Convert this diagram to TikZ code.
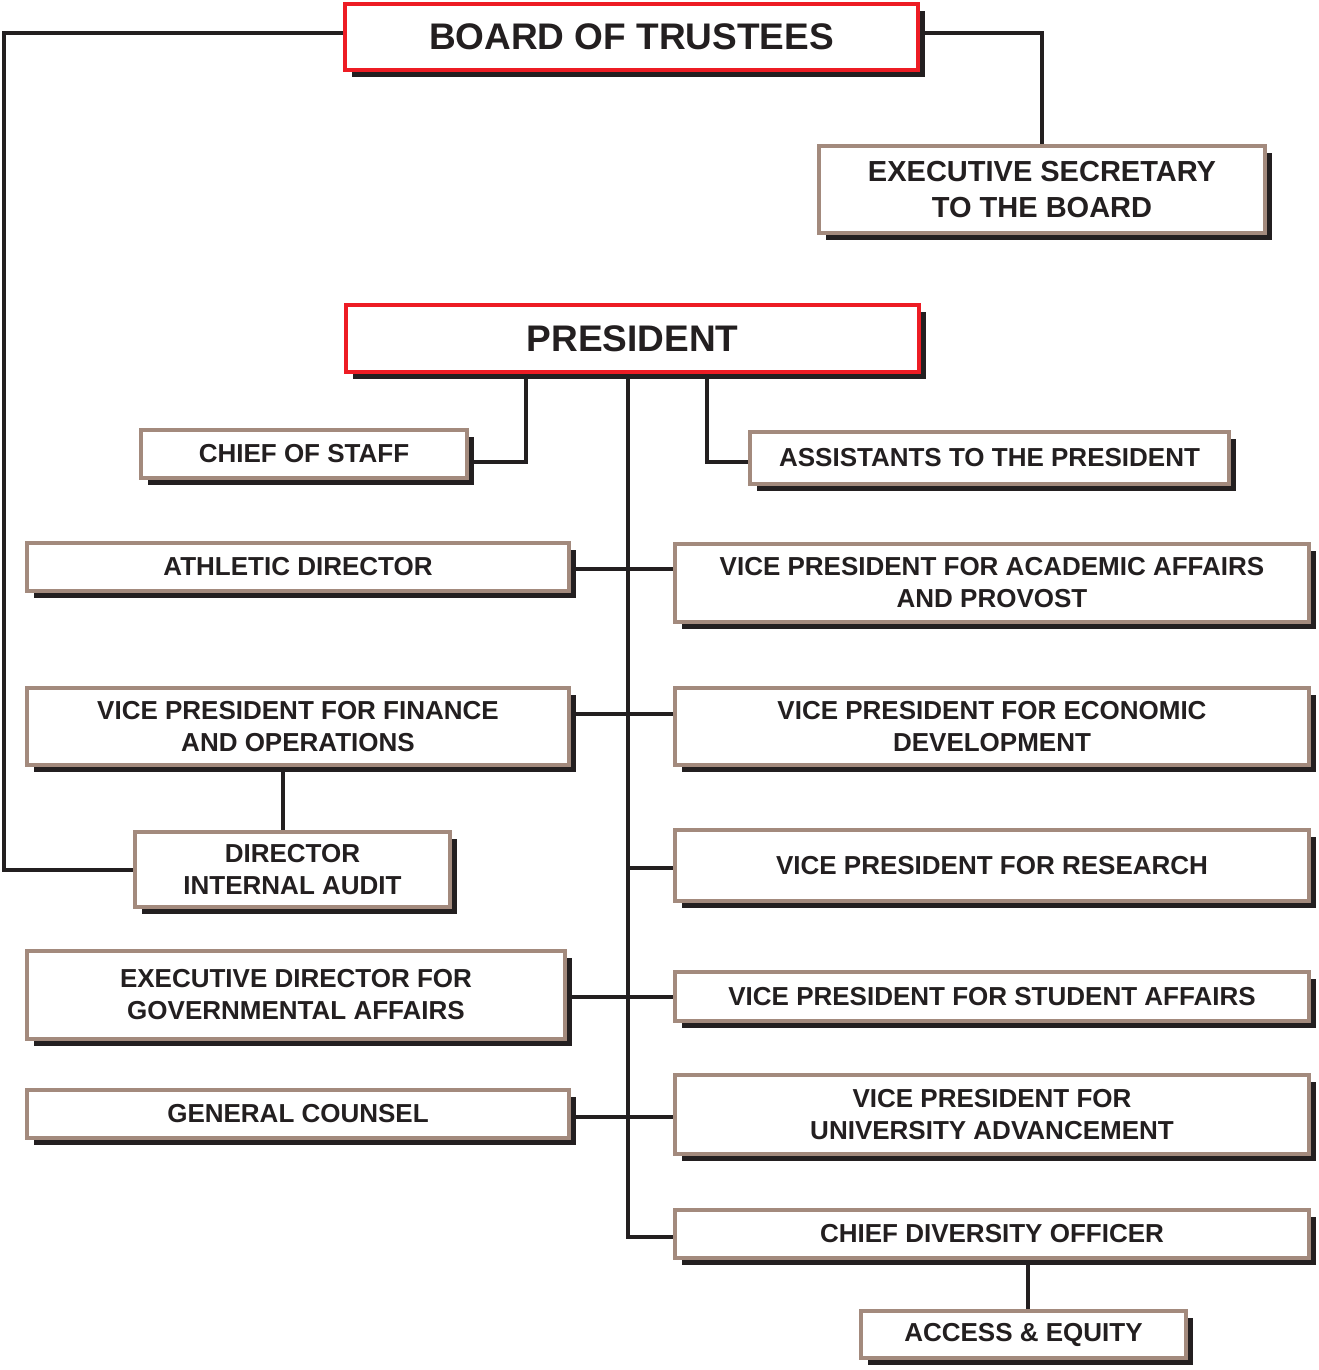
\documentclass[tikz,border=0pt]{standalone}
\usepackage{fontspec}
\setmainfont{Liberation Sans}
\usepackage{tikz}
\usetikzlibrary{shadows,backgrounds}
\definecolor{ink}{HTML}{231F20}
\definecolor{tanline}{HTML}{A38A7D}
\definecolor{redline}{HTML}{ED1C24}
\tikzstyle{unit}=[rectangle, draw=tanline, line width=4pt, fill=white, inner sep=0pt, align=center, text=ink,
  font=\bfseries\fontsize{26}{32}\selectfont,
  drop shadow={shadow xshift=7pt, shadow yshift=-7pt, fill=ink, opacity=1}]
\tikzstyle{head}=[unit, draw=redline, font=\bfseries\fontsize{37}{44}\selectfont]
\tikzstyle{link}=[draw=ink, line width=4pt]

\begin{document}
\begin{tikzpicture}[x=1pt, y=-1pt]
                    \useasboundingbox (0,0) rectangle (1319,1370);
                    \node[head, minimum width=573pt, minimum height=66pt] (bot) at (631.5, 37) {BOARD OF TRUSTEES};
                    \node[unit, minimum width=446pt, minimum height=87pt, font=\bfseries\fontsize{29}{36}\selectfont] (sec) at (1042, 189.5) {EXECUTIVE SECRETARY\\TO THE BOARD};
                    \node[head, minimum width=573pt, minimum height=67pt] (pres) at (632.5, 338.5) {PRESIDENT};
                    \node[unit, minimum width=326pt, minimum height=48pt] (cos) at (304, 454) {CHIEF OF STAFF};
                    \node[unit, minimum width=479pt, minimum height=52pt] (asst) at (989.5, 458) {ASSISTANTS TO THE PRESIDENT};
                    \node[unit, minimum width=542pt, minimum height=48pt] (ath) at (298, 567) {ATHLETIC DIRECTOR};
                    \node[unit, minimum width=634pt, minimum height=78pt] (vpaa) at (992, 583) {VICE PRESIDENT FOR ACADEMIC AFFAIRS\\AND PROVOST};
                    \node[unit, minimum width=542pt, minimum height=77pt] (vpfo) at (298, 726.5) {VICE PRESIDENT FOR FINANCE\\AND OPERATIONS};
                    \node[unit, minimum width=634pt, minimum height=77pt] (vped) at (992, 726.5) {VICE PRESIDENT FOR ECONOMIC\\DEVELOPMENT};
                    \node[unit, minimum width=315pt, minimum height=75pt] (aud) at (292.5, 869.5) {DIRECTOR\\INTERNAL AUDIT};
                    \node[unit, minimum width=634pt, minimum height=71pt] (vpr) at (992, 865.5) {VICE PRESIDENT FOR RESEARCH};
                    \node[unit, minimum width=538pt, minimum height=88pt] (edga) at (296, 995) {EXECUTIVE DIRECTOR FOR\\GOVERNMENTAL AFFAIRS};
                    \node[unit, minimum width=634pt, minimum height=49pt] (vpsa) at (992, 996.5) {VICE PRESIDENT FOR STUDENT AFFAIRS};
                    \node[unit, minimum width=542pt, minimum height=48pt] (gc) at (298, 1114) {GENERAL COUNSEL};
                    \node[unit, minimum width=634pt, minimum height=79pt] (vpua) at (992, 1114.5) {VICE PRESIDENT FOR\\UNIVERSITY ADVANCEMENT};
                    \node[unit, minimum width=634pt, minimum height=48pt] (cdo) at (992, 1234) {CHIEF DIVERSITY OFFICER};
                    \node[unit, minimum width=325pt, minimum height=47pt] (acc) at (1023.5, 1334.5) {ACCESS \& EQUITY};
                    \coordinate (lft) at (4, 0);
                    \coordinate (trunk) at (628, 0);
                    \coordinate (cosx) at (526, 0);
                    \coordinate (asx) at (707, 0);
                    \begin{scope}[on background layer]
                    \draw[link] ([yshift=4pt]bot.west) -- ([yshift=4pt]bot.west -| lft) |- (aud.west);
                    \draw[link] ([yshift=4pt]bot.east) -| (sec.north);
                    \draw[link] (pres.south -| trunk) |- ([yshift=-3pt]cdo.west);
                    \draw[link] ([yshift=-8pt]cos.east) -| (pres.south -| cosx);
                    \draw[link] ([yshift=-4pt]asst.west) -| (pres.south -| asx);
                    \draw[link] ([yshift=-2pt]ath.east) -- ([yshift=-2pt]ath.east -| vpaa.west);
                    \draw[link] ([yshift=13pt]vpfo.east) -- ([yshift=13pt]vped.west);
                    \draw[link] ([xshift=-10pt]aud.north) -- ([xshift=-10pt]aud.north |- vpfo.south);
                    \draw[link] ([yshift=-2pt]vpr.west -| trunk) -- ([yshift=-2pt]vpr.west);
                    \draw[link] ([yshift=-2pt]edga.east) -- ([yshift=-2pt]edga.east -| vpsa.west);
                    \draw[link] ([yshift=-3pt]gc.east) -- ([yshift=-3pt]gc.east -| vpua.west);
                    \draw[link] ([xshift=4pt]acc.north) -- ([xshift=4pt]acc.north |- cdo.south);
                    \end{scope}
                \end{tikzpicture}
\end{document}
